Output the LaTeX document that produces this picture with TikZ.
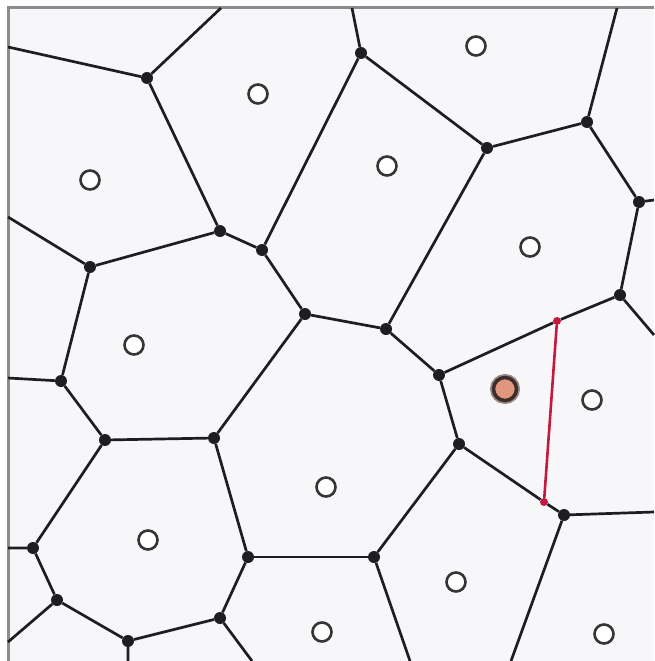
\documentclass[tikz,border=0pt]{standalone}
\usepackage{tikz}
\usetikzlibrary{positioning}
\definecolor{vdbg}{RGB}{247,247,249}
\definecolor{vdframe}{RGB}{140,140,140}
\definecolor{vdedge}{RGB}{30,30,32}
\definecolor{vdred}{RGB}{196,24,62}
\definecolor{vdsalmon}{RGB}{226,150,125}
\definecolor{vdring}{RGB}{60,44,42}
\definecolor{vdhalo}{RGB}{150,138,134}

\begin{document}
\begin{tikzpicture}[x=1pt, y=-1pt,
  vtx/.style={circle, fill=vdedge, inner sep=0pt, minimum size=12pt},
  newvtx/.style={circle, fill=vdred, inner sep=0pt, minimum size=8pt},
  site/.style={circle, draw=vdedge!90, fill=white, line width=2.6pt,
               inner sep=0pt, minimum size=19pt},
  newsite/.style={circle, draw=vdring, fill=vdsalmon, line width=3.5pt,
                  inner sep=0pt, minimum size=23pt,
                  preaction={draw=vdhalo, line width=7pt}},
  edge/.style={draw=vdedge, line width=2.7pt},
  newedge/.style={draw=vdred, line width=2.6pt},
]

% frame and background
\useasboundingbox (0,0) rectangle (654,661);
\fill[white] (0,0) rectangle (654,661);
\fill[vdbg] (8,8) rectangle (654,661);
\draw[vdframe, line width=3pt] (8,661) -- (8,8) -- (654,8);

% Voronoi vertices
\node[vtx] (v1)  at (147,78)  {};
\node[vtx] (v2)  at (220,231) {};
\node[vtx] (v3)  at (262,250) {};
\node[vtx] (v4)  at (90,267)  {};
\node[vtx] (v5)  at (305,314) {};
\node[vtx] (v6)  at (361,53)  {};
\node[vtx] (v7)  at (487,148) {};
\node[vtx] (v8)  at (587,122) {};
\node[vtx] (v9)  at (639,202) {};
\node[vtx] (v10) at (620,295) {};
\node[vtx] (v11) at (61,381)  {};
\node[vtx] (v12) at (105,440) {};
\node[vtx] (v13) at (214,438) {};
\node[vtx] (v14) at (248,557) {};
\node[vtx] (v15) at (220,618) {};
\node[vtx] (v16) at (33,548)  {};
\node[vtx] (v17) at (57,600)  {};
\node[vtx] (v18) at (128,641) {};
\node[vtx] (v19) at (386,329) {};
\node[vtx] (v20) at (439,375) {};
\node[vtx] (v21) at (459,444) {};
\node[vtx] (v22) at (564,515) {};
\node[vtx] (v23) at (374,557) {};

% ends on the frame
\coordinate (b1)  at (8,47);
\coordinate (b2)  at (221,8);
\coordinate (b3)  at (8,217);
\coordinate (b4)  at (352,8);
\coordinate (b5)  at (617,8);
\coordinate (b6)  at (654,200);
\coordinate (b7)  at (654,335);
\coordinate (b8)  at (8,378);
\coordinate (b9)  at (8,548);
\coordinate (b10) at (8,642);
\coordinate (b11) at (128,661);
\coordinate (b12) at (252,661);
\coordinate (b13) at (410,661);
\coordinate (b14) at (511,661);
\coordinate (b15) at (654,512);

% new vertices on old edges
\node[newvtx] (r1) at (557,321) {};
\node[newvtx] (r2) at (544,502) {};

% edges
\draw[edge] (b1) -- (v1) -- (b2);
\draw[edge] (v1) -- (v2);
\draw[edge] (b3) -- (v4) -- (v2) -- (v3);
\draw[edge] (v3) -- (v6) -- (b4);
\draw[edge] (v3) -- (v5);
\draw[edge] (v6) -- (v7) -- (v8) -- (b5);
\draw[edge] (v8) -- (v9) -- (b6);
\draw[edge] (v9) -- (v10) -- (b7);
\draw[edge] (v7) -- (v19);
\draw[edge] (v5) -- (v19) -- (v20);
\draw[edge] (v20) -- (r1);
\draw[edge] (r1) -- (v10);
\draw[edge] (v20) -- (v21);
\draw[edge] (v21) -- (r2);
\draw[edge] (r2) -- (v22);
\draw[edge] (v22) -- (b15);
\draw[edge] (v22) -- (b14);
\draw[edge] (v21) -- (v23) -- (b13);
\draw[edge] (v23) -- (v14);
\draw[edge] (v4) -- (v11) -- (b8);
\draw[edge] (v11) -- (v12) -- (v13) -- (v5);
\draw[edge] (v13) -- (v14) -- (v15) -- (b12);
\draw[edge] (v12) -- (v16) -- (b9);
\draw[edge] (v16) -- (v17) -- (b10);
\draw[edge] (v17) -- (v18) -- (b11);
\draw[edge] (v18) -- (v15);

% new edge
\draw[newedge] (r1) -- (r2);

% sites
\node[site] (s1)  at (476,46)  {};
\node[site] (s2)  at (258,94)  {};
\node[site] (s3)  at (90,180)  {};
\node[site] (s4)  at (387,166) {};
\node[site] (s5)  at (530,247) {};
\node[site] (s6)  at (134,345) {};
\node[site] (s8)  at (592,400) {};
\node[site] (s9)  at (326,487) {};
\node[site] (s10) at (148,540) {};
\node[site] (s11) at (456,582) {};
\node[site] (s12) at (322,632) {};
\node[site] (s13) at (604,634) {};
\node[newsite] (s7) at (505,389) {};

\end{tikzpicture}
\end{document}
